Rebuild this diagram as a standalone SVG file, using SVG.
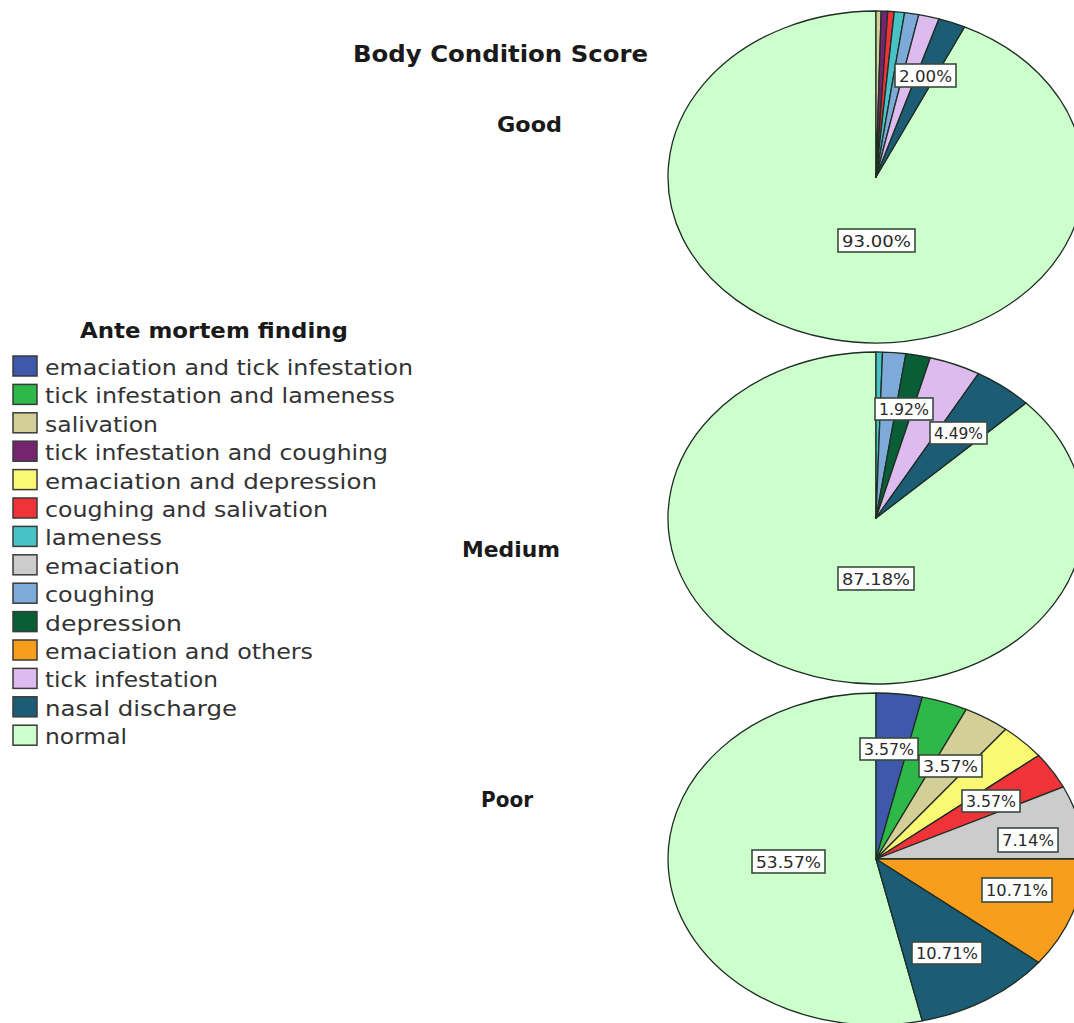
<svg xmlns="http://www.w3.org/2000/svg" width="1074" height="1023" viewBox="0 0 1074 1023">
<style>
.t{font-family:"DejaVu Sans","Liberation Sans",sans-serif;font-weight:bold;fill:#1a1a1a}
.lg{font-family:"DejaVu Sans","Liberation Sans",sans-serif;font-size:22px;fill:#333}
.sl{stroke:#1e2e24;stroke-width:1.3;stroke-linejoin:round}
.box{fill:#fff;stroke:#3a4a3e;stroke-width:1.6}
.pl{font-family:"DejaVu Sans","Liberation Sans",sans-serif;font-size:15.5px;fill:#2a2a2a}
.sw{stroke:#3a3a3a;stroke-width:1.5}
.c1{fill:#3E58AC}.c2{fill:#2EB848}.c3{fill:#D4CE97}.c4{fill:#75256F}.c5{fill:#FBF873}.c6{fill:#EF3338}.c7{fill:#48C2C5}.c8{fill:#CCCCCC}.c9{fill:#7DAAD9}.c10{fill:#0A5E35}.c11{fill:#F99D1C}.c12{fill:#DDBBEE}.c13{fill:#1C5C74}.c14{fill:#CCFFCC}
</style>
<rect width="1074" height="1023" fill="#fff"/>

<g id="titles">
<text class="t" x="353" y="62" font-size="23" textLength="295" lengthAdjust="spacingAndGlyphs">Body Condition Score</text>
<text class="t" x="497" y="132" font-size="22" textLength="65" lengthAdjust="spacingAndGlyphs">Good</text>
<text class="t" x="462" y="557" font-size="22" textLength="98" lengthAdjust="spacingAndGlyphs">Medium</text>
<text class="t" x="481" y="807" font-size="22" textLength="52" lengthAdjust="spacingAndGlyphs">Poor</text>
</g>

<g id="legend">
<text class="t" x="80" y="338" font-size="22" textLength="268" lengthAdjust="spacingAndGlyphs">Ante mortem finding</text>
<g class="sw">
<rect class="c1" x="13" y="356" width="24" height="20"/>
<rect class="c2" x="13" y="384.4" width="24" height="20"/>
<rect class="c3" x="13" y="412.8" width="24" height="20"/>
<rect class="c4" x="13" y="441.2" width="24" height="20"/>
<rect class="c5" x="13" y="469.6" width="24" height="20"/>
<rect class="c6" x="13" y="498" width="24" height="20"/>
<rect class="c7" x="13" y="526.4" width="24" height="20"/>
<rect class="c8" x="13" y="554.8" width="24" height="20"/>
<rect class="c9" x="13" y="583.2" width="24" height="20"/>
<rect class="c10" x="13" y="611.6" width="24" height="20"/>
<rect class="c11" x="13" y="640" width="24" height="20"/>
<rect class="c12" x="13" y="668.4" width="24" height="20"/>
<rect class="c13" x="13" y="696.8" width="24" height="20"/>
<rect class="c14" x="13" y="725.2" width="24" height="20"/>
</g>
<text class="lg" x="45" y="375" textLength="368" lengthAdjust="spacingAndGlyphs">emaciation and tick infestation</text>
<text class="lg" x="45" y="403.4" textLength="350" lengthAdjust="spacingAndGlyphs">tick infestation and lameness</text>
<text class="lg" x="45" y="431.8" textLength="113" lengthAdjust="spacingAndGlyphs">salivation</text>
<text class="lg" x="45" y="460.2" textLength="343" lengthAdjust="spacingAndGlyphs">tick infestation and coughing</text>
<text class="lg" x="45" y="488.6" textLength="332" lengthAdjust="spacingAndGlyphs">emaciation and depression</text>
<text class="lg" x="45" y="517" textLength="283" lengthAdjust="spacingAndGlyphs">coughing and salivation</text>
<text class="lg" x="45" y="545.4" textLength="117" lengthAdjust="spacingAndGlyphs">lameness</text>
<text class="lg" x="45" y="573.8" textLength="135" lengthAdjust="spacingAndGlyphs">emaciation</text>
<text class="lg" x="45" y="602.2" textLength="110" lengthAdjust="spacingAndGlyphs">coughing</text>
<text class="lg" x="45" y="630.6" textLength="137" lengthAdjust="spacingAndGlyphs">depression</text>
<text class="lg" x="45" y="659" textLength="268" lengthAdjust="spacingAndGlyphs">emaciation and others</text>
<text class="lg" x="45" y="687.4" textLength="173" lengthAdjust="spacingAndGlyphs">tick infestation</text>
<text class="lg" x="45" y="715.8" textLength="192" lengthAdjust="spacingAndGlyphs">nasal discharge</text>
<text class="lg" x="45" y="744.2" textLength="82" lengthAdjust="spacingAndGlyphs">normal</text>
</g>

<g id="pie-good" class="sl">
<path class="c14" d="M876,177 L964.56,26.80 A208,166 0 1,1 876,11 Z"/>
<path class="c3" d="M876,177 L876,11 A208,166 0 0,1 881.2,11.05 Z"/>
<path class="c4" d="M876,177 L881.2,11.05 A208,166 0 0,1 887.76,11.27 Z"/>
<path class="c6" d="M876,177 L887.76,11.27 A208,166 0 0,1 894.27,11.64 Z"/>
<path class="c7" d="M876,177 L894.27,11.64 A208,166 0 0,1 904.66,12.58 Z"/>
<path class="c9" d="M876,177 L904.66,12.58 A208,166 0 0,1 918.82,14.56 Z"/>
<path class="c12" d="M876,177 L918.82,14.56 A208,166 0 0,1 939.03,18.81 Z"/>
<path class="c13" d="M876,177 L939.03,18.81 A208,166 0 0,1 964.56,26.80 Z"/>
</g>
<g id="labels-good">
<rect class="box" x="895" y="64" width="61" height="23"/>
<text class="pl" x="899" y="81.5" textLength="53" lengthAdjust="spacingAndGlyphs">2.00%</text>
<rect class="box" x="838" y="229" width="77" height="23"/>
<text class="pl" x="842" y="246.5" textLength="69" lengthAdjust="spacingAndGlyphs">93.00%</text>
</g>

<g id="pie-medium" class="sl">
<path class="c14" d="M876,518 L1025.99,402.99 A208,166 0 1,1 876,352 Z"/>
<path class="c7" d="M876,518 L876,352 A208,166 0 0,1 882.53,352.08 Z"/>
<path class="c9" d="M876,518 L882.53,352.08 A208,166 0 0,1 905.95,353.73 Z"/>
<path class="c10" d="M876,518 L905.95,353.73 A208,166 0 0,1 930.26,357.75 Z"/>
<path class="c12" d="M876,518 L930.26,357.75 A208,166 0 0,1 978.49,373.55 Z"/>
<path class="c13" d="M876,518 L978.49,373.55 A208,166 0 0,1 1025.99,402.99 Z"/>
</g>
<g id="labels-medium">
<rect class="box" x="875" y="398" width="58" height="22"/>
<text class="pl" x="879" y="415" textLength="50" lengthAdjust="spacingAndGlyphs">1.92%</text>
<rect class="box" x="930" y="422" width="57" height="22"/>
<text class="pl" x="934" y="439" textLength="49" lengthAdjust="spacingAndGlyphs">4.49%</text>
<rect class="box" x="838" y="567" width="76" height="23"/>
<text class="pl" x="842" y="584.5" textLength="68" lengthAdjust="spacingAndGlyphs">87.18%</text>
</g>

<g id="pie-poor" class="sl">
<path class="c14" d="M876,859 L922.28,1020.84 A208,166 0 1,1 876,693 Z"/>
<path class="c1" d="M876,859 L876,693 A208,166 0 0,1 922.28,697.16 Z"/>
<path class="c2" d="M876,859 L922.28,697.16 A208,166 0 0,1 966.25,709.44 Z"/>
<path class="c3" d="M876,859 L966.25,709.44 A208,166 0 0,1 1005.69,729.22 Z"/>
<path class="c5" d="M876,859 L1005.69,729.22 A208,166 0 0,1 1038.62,755.50 Z"/>
<path class="c6" d="M876,859 L1038.62,755.50 A208,166 0 0,1 1063.40,786.98 Z"/>
<path class="c8" d="M876,859 L1063.40,786.98 A208,166 0 0,1 1084,859 Z"/>
<path class="c11" d="M876,859 L1084,859 A208,166 0 0,1 1038.62,962.50 Z"/>
<path class="c13" d="M876,859 L1038.62,962.50 A208,166 0 0,1 922.28,1020.84 Z"/>
</g>
<g id="labels-poor">
<rect class="box" x="860" y="738" width="58" height="22"/>
<text class="pl" x="864" y="755" textLength="50" lengthAdjust="spacingAndGlyphs">3.57%</text>
<rect class="box" x="919" y="755" width="63" height="22"/>
<text class="pl" x="923" y="772" textLength="55" lengthAdjust="spacingAndGlyphs">3.57%</text>
<rect class="box" x="962" y="790" width="58" height="22"/>
<text class="pl" x="966" y="807" textLength="50" lengthAdjust="spacingAndGlyphs">3.57%</text>
<rect class="box" x="998" y="828" width="60" height="24"/>
<text class="pl" x="1002" y="846" textLength="52" lengthAdjust="spacingAndGlyphs">7.14%</text>
<rect class="box" x="982" y="878" width="70" height="24"/>
<text class="pl" x="986" y="896" textLength="62" lengthAdjust="spacingAndGlyphs">10.71%</text>
<rect class="box" x="912" y="942" width="70" height="22"/>
<text class="pl" x="916" y="959" textLength="62" lengthAdjust="spacingAndGlyphs">10.71%</text>
<rect class="box" x="752" y="850" width="73" height="23"/>
<text class="pl" x="756" y="867.5" textLength="65" lengthAdjust="spacingAndGlyphs">53.57%</text>
</g>
</svg>
